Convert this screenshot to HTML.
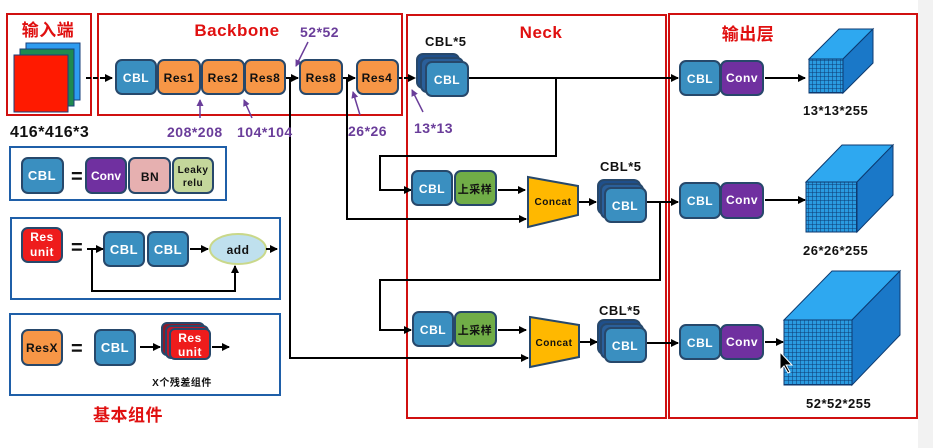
<!DOCTYPE html>
<html><head><meta charset="utf-8"><style>
body{margin:0;background:#fff;width:933px;height:448px;overflow:hidden}
svg{display:block}
text{font-family:"Liberation Sans","Noto Sans CJK SC",sans-serif;font-weight:bold;letter-spacing:0.5px}
</style></head><body>
<svg width="933" height="448" viewBox="0 0 933 448">
<defs>
<marker id="a" markerWidth="8" markerHeight="8" refX="7" refY="4" orient="auto" markerUnits="userSpaceOnUse"><path d="M0,0 L8,4 L0,8 z" fill="#000"/></marker>
<marker id="p" markerWidth="7" markerHeight="7" refX="6" refY="3.5" orient="auto" markerUnits="userSpaceOnUse"><path d="M0,0 L7,3.5 L0,7 z" fill="#6a3d9a"/></marker>
<pattern id="g" width="4" height="4" patternUnits="userSpaceOnUse"><rect width="4" height="4" fill="#2a9be0"/><path d="M0,0H4M0,0V4" stroke="#0d3a70" stroke-width="1"/></pattern>
</defs>
<rect x="918" y="0" width="15" height="448" fill="#f2f2f2"/>
<g fill="none" stroke="#d01010" stroke-width="2">
<rect x="7" y="14" width="84" height="101"/>
<rect x="98" y="14" width="304" height="101"/>
<rect x="407" y="15" width="259" height="403"/>
<rect x="669" y="14" width="248" height="404"/>
</g>
<g fill="#e01010" font-size="17" text-anchor="middle">
<text x="48" y="36">输入端</text>
<text x="237" y="36">Backbone</text>
<text x="541" y="38">Neck</text>
<text x="748" y="40">输出层</text>
<text x="128" y="421">基本组件</text>
</g>
<rect x="26" y="43" width="54" height="57" fill="#2e9cf0" stroke="#1a3f7a"/>
<rect x="20" y="49" width="54" height="57" fill="#1e8a50" stroke="#1a3f7a"/>
<rect x="14" y="55" width="54" height="57" fill="#ff1a00" stroke="#1a3f7a"/>
<text x="10" y="137" font-size="16" fill="#111">416*416*3</text>
<g stroke="#000" stroke-width="2" fill="none">
<path d="M86,78H112" marker-end="url(#a)" stroke-dasharray="5,2"/>
<path d="M285,78H298" marker-end="url(#a)"/>
<path d="M342,78H355" marker-end="url(#a)"/>
<path d="M398,78H415" marker-end="url(#a)" stroke-dasharray="4,2"/>
<path d="M290,78V358H528" marker-end="url(#a)"/>
<path d="M347,78V219H526" marker-end="url(#a)"/>
<path d="M468,78H678" marker-end="url(#a)"/>
<path d="M556,78V156H380V190H411" marker-end="url(#a)"/>
<path d="M498,190H525" marker-end="url(#a)"/>
<path d="M578,202H596" marker-end="url(#a)"/>
<path d="M645,202H678" marker-end="url(#a)"/>
<path d="M660,202V280H380V330H411" marker-end="url(#a)"/>
<path d="M498,330H526" marker-end="url(#a)"/>
<path d="M579,342H597" marker-end="url(#a)"/>
<path d="M646,343H678" marker-end="url(#a)"/>
<path d="M765,78H805" marker-end="url(#a)"/>
<path d="M765,200H805" marker-end="url(#a)"/>
<path d="M765,342H783" marker-end="url(#a)"/>
</g>
<g stroke="#6a3d9a" stroke-width="1.5" fill="none">
<path d="M308,42L296,66" marker-end="url(#p)"/>
<path d="M200,118V100" marker-end="url(#p)"/>
<path d="M252,118L244,100" marker-end="url(#p)"/>
<path d="M360,115L353,92" marker-end="url(#p)"/>
<path d="M423,112L412,90" marker-end="url(#p)"/>
</g>
<g fill="#6a3d9a" font-size="14">
<text x="300" y="37">52*52</text>
<text x="167" y="137">208*208</text>
<text x="237" y="137">104*104</text>
<text x="348" y="136">26*26</text>
<text x="414" y="133">13*13</text>
</g>
<g stroke="#27486b" stroke-width="2">
<rect x="116" y="60" width="40" height="34" rx="6" fill="#3a8fc0"/>
<rect x="158" y="60" width="42" height="34" rx="6" fill="#f79646"/>
<rect x="202" y="60" width="42" height="34" rx="6" fill="#f79646"/>
<rect x="245" y="60" width="40" height="34" rx="6" fill="#f79646"/>
<rect x="300" y="60" width="42" height="34" rx="6" fill="#f79646"/>
<rect x="357" y="60" width="41" height="34" rx="6" fill="#f79646"/>
<rect x="417" y="54" width="42" height="34" rx="6" fill="#1f4f8a"/>
<rect x="421" y="58" width="42" height="34" rx="6" fill="#2a5f9a"/>
<rect x="426" y="62" width="42" height="34" rx="6" fill="#3a8fc0"/>
<rect x="598" y="180" width="42" height="34" rx="6" fill="#1f4f8a"/>
<rect x="601" y="184" width="42" height="34" rx="6" fill="#2a5f9a"/>
<rect x="605" y="188" width="41" height="34" rx="6" fill="#3a8fc0"/>
<rect x="598" y="320" width="42" height="34" rx="6" fill="#1f4f8a"/>
<rect x="601" y="324" width="42" height="34" rx="6" fill="#2a5f9a"/>
<rect x="605" y="328" width="41" height="34" rx="6" fill="#3a8fc0"/>
<rect x="412" y="171" width="40" height="34" rx="6" fill="#3a8fc0"/>
<rect x="455" y="171" width="41" height="34" rx="6" fill="#70ad47"/>
<rect x="413" y="312" width="40" height="34" rx="6" fill="#3a8fc0"/>
<rect x="455" y="312" width="41" height="34" rx="6" fill="#70ad47"/>
<path d="M528,177L578,186V215L528,227Z" fill="#ffb800"/>
<path d="M530,317L579,325V357L530,367Z" fill="#ffb800"/>
<rect x="680" y="61" width="40" height="34" rx="6" fill="#3a8fc0"/>
<rect x="721" y="61" width="42" height="34" rx="6" fill="#7030a0"/>
<rect x="680" y="183" width="40" height="35" rx="6" fill="#3a8fc0"/>
<rect x="721" y="183" width="42" height="35" rx="6" fill="#7030a0"/>
<rect x="680" y="325" width="40" height="34" rx="6" fill="#3a8fc0"/>
<rect x="721" y="325" width="42" height="34" rx="6" fill="#7030a0"/>
</g>
<g font-size="12" text-anchor="middle" fill="#fff">
<text x="136" y="82">CBL</text>
<text x="447" y="84">CBL</text>
<text x="432" y="193">CBL</text>
<text x="433" y="334">CBL</text>
<text x="625" y="210">CBL</text>
<text x="625" y="350">CBL</text>
<text x="700" y="83">CBL</text><text x="742" y="82">Conv</text>
<text x="700" y="205">CBL</text><text x="742" y="204">Conv</text>
<text x="700" y="347">CBL</text><text x="742" y="346">Conv</text>
</g>
<g font-size="12" text-anchor="middle" fill="#111">
<text x="179" y="82">Res1</text><text x="223" y="82">Res2</text><text x="265" y="82">Res8</text>
<text x="321" y="82">Res8</text><text x="377" y="82">Res4</text>
<text x="475" y="193" font-size="11">上采样</text>
<text x="475" y="334" font-size="11">上采样</text>
<text x="553" y="205" font-size="10">Concat</text>
<text x="554" y="346" font-size="10">Concat</text>
</g>
<g font-size="13" fill="#111">
<text x="425" y="46">CBL*5</text>
<text x="600" y="171">CBL*5</text>
<text x="599" y="315">CBL*5</text>
<text x="803" y="115">13*13*255</text>
<text x="803" y="255">26*26*255</text>
<text x="806" y="408">52*52*255</text>
</g>
<g stroke="#0d3a70" stroke-width="1">
<path d="M809,59L839,29H873L843,59Z" fill="#2ea8f0"/>
<path d="M843,59L873,29V63L843,93Z" fill="#1a78c8"/>
<rect x="809" y="59" width="34" height="34" fill="url(#g)"/>
<path d="M806,182L842,145H893L857,182Z" fill="#2ea8f0"/>
<path d="M857,182L893,145V195L857,232Z" fill="#1a78c8"/>
<rect x="806" y="182" width="51" height="50" fill="url(#g)"/>
<path d="M784,320L832,271H900L852,320Z" fill="#2ea8f0"/>
<path d="M852,320L900,271V335L852,385Z" fill="#1a78c8"/>
<rect x="784" y="320" width="68" height="65" fill="url(#g)"/>
</g>
<path d="M780,352l0,18l4,-4l4,7l2,-1l-4,-7l6,0z" fill="#000" stroke="#fff" stroke-width="1"/>
<g fill="none" stroke="#1f5fa8" stroke-width="2">
<rect x="10" y="147" width="216" height="53"/>
<rect x="11" y="218" width="269" height="81"/>
<rect x="10" y="314" width="270" height="81"/>
</g>
<g stroke="#27486b" stroke-width="2">
<rect x="22" y="158" width="41" height="35" rx="6" fill="#3a8fc0"/>
<rect x="86" y="158" width="40" height="35" rx="6" fill="#7030a0"/>
<rect x="129" y="158" width="41" height="35" rx="6" fill="#e6b0b0"/>
<rect x="173" y="158" width="40" height="35" rx="6" fill="#c4d79b"/>
<rect x="22" y="228" width="40" height="34" rx="6" fill="#ee1c1c"/>
<rect x="104" y="232" width="40" height="34" rx="6" fill="#3a8fc0"/>
<rect x="148" y="232" width="40" height="34" rx="6" fill="#3a8fc0"/>
<rect x="22" y="330" width="40" height="35" rx="6" fill="#f79646"/>
<rect x="95" y="330" width="40" height="35" rx="6" fill="#3a8fc0"/>
<rect x="162" y="323" width="42" height="32" rx="5" fill="#8b1a2a"/>
<rect x="166" y="326" width="42" height="32" rx="5" fill="#c0182a"/>
<rect x="170" y="329" width="40" height="30" rx="5" fill="#ee1c1c"/>
</g>
<ellipse cx="238" cy="249" rx="28" ry="15" fill="#bfe0ee" stroke="#c9d88a" stroke-width="2"/>
<g stroke="#000" stroke-width="2" fill="none">
<path d="M87,249H103" marker-end="url(#a)"/>
<path d="M92,249V291H235V266" marker-end="url(#a)"/>
<path d="M190,249H208" marker-end="url(#a)"/>
<path d="M266,249H277" marker-end="url(#a)"/>
<path d="M140,347H160" marker-end="url(#a)"/>
<path d="M212,347H229" marker-end="url(#a)"/>
</g>
<g font-size="13" text-anchor="middle" fill="#fff">
<text x="42" y="180">CBL</text>
<text x="106" y="180" font-size="12" style="letter-spacing:0">Conv</text>
<text x="124" y="254">CBL</text><text x="168" y="254">CBL</text>
<text x="115" y="352">CBL</text>
<text x="42" y="241" font-size="12">Res</text><text x="42" y="256" font-size="12">unit</text>
<text x="190" y="342" font-size="12">Res</text><text x="190" y="356" font-size="12">unit</text>
</g>
<g font-size="12" text-anchor="middle" fill="#111">
<text x="150" y="181">BN</text>
<text x="193" y="173" font-size="10">Leaky</text><text x="193" y="186" font-size="10">relu</text>
<text x="42" y="352">ResX</text>
<text x="238" y="254" font-weight="normal">add</text>
<text x="182" y="386" font-size="10">X个残差组件</text>
</g>
<g font-size="20" fill="#111"><text x="71" y="183">=</text><text x="71" y="254">=</text><text x="71" y="355">=</text></g>
</svg>
</body></html>
